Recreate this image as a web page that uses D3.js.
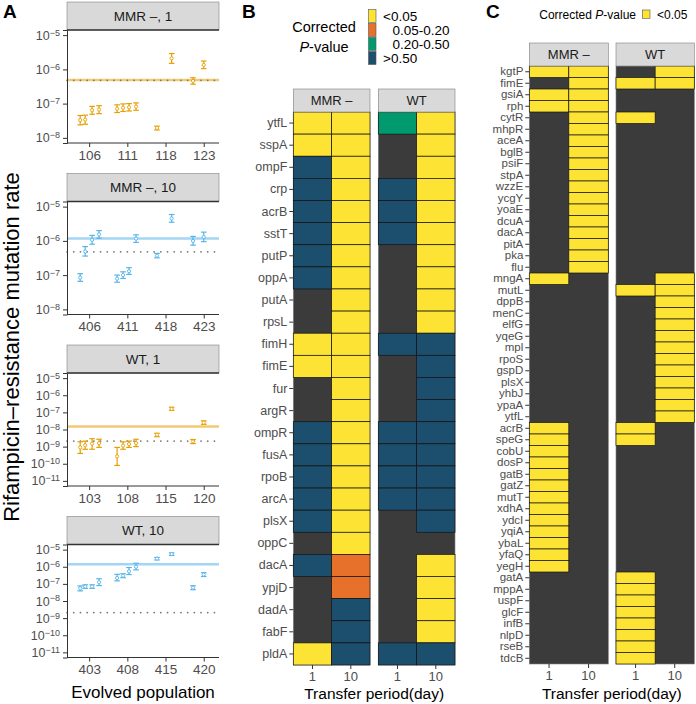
<!DOCTYPE html>
<html><head><meta charset="utf-8">
<script src="https://cdn.jsdelivr.net/npm/d3@7"></script>
<style>
body{margin:0;background:#fff}
svg{font-family:"Liberation Sans",Arial,Helvetica,sans-serif}
</style>
</head><body>
<svg id="c" width="696" height="704"></svg>
<script>
// ---------------- DATA ----------------
// Panel A
const facetLabelsA = ["MMR \u2013, 1","MMR \u2013, 10","WT, 1","WT, 10"];
const tickLabelsA = [["106","111","118","123"],["406","411","418","423"],["103","108","115","120"],["403","408","415","420"]];
const tickOrdA = [0,5,10,15];
const popOrdA = [-1.17,-0.52,0.39,1.3,3.66,4.44,5.22,6.14,8.88,10.8,13.6,15.0];

const rateMMR1 = [3.3e-8,3.4e-8,6.4e-8,6.7e-8,7.1e-8,7.6e-8,7.8e-8,8.2e-8,1.95e-8,2.1e-6,4.6e-7,1.35e-6];
const lowMMR1  = [2.4e-8,2.5e-8,4.9e-8,5.1e-8,5.5e-8,5.9e-8,6.1e-8,6.4e-8,1.7e-8,1.5e-6,3.7e-7,1.05e-6];
const highMMR1 = [4.5e-8,4.6e-8,8.3e-8,8.7e-8,9.2e-8,9.8e-8,1.0e-7,1.05e-7,2.2e-8,2.9e-6,5.7e-7,1.75e-6];

const rateMMR10 = [8.5e-8,4.9e-7,1.07e-6,1.55e-6,7.9e-8,1.0e-7,1.3e-7,1.17e-6,3.7e-7,4.5e-6,1.0e-6,1.3e-6];
const lowMMR10  = [6.6e-8,3.6e-7,8.0e-7,1.2e-6,6.2e-8,8.0e-8,1.05e-7,9.0e-7,3.2e-7,3.5e-6,7.5e-7,9.5e-7];
const highMMR10 = [1.1e-7,6.8e-7,1.45e-6,2.0e-6,1.0e-7,1.25e-7,1.65e-7,1.5e-6,4.3e-7,5.9e-6,1.35e-6,1.8e-6];

const rateWT1 = [9e-10,1.2e-9,1.5e-9,1.6e-9,2.7e-10,1.15e-9,1.4e-9,1.6e-9,5e-9,1.6e-7,2e-9,2.5e-8];
const lowWT1  = [4e-10,7e-10,7e-10,9e-10,8e-11,7e-10,9e-10,1e-9,3.8e-9,1.3e-7,1.5e-9,2e-8];
const highWT1 = [1.9e-9,2.1e-9,2.9e-9,2.7e-9,9e-10,1.9e-9,2.1e-9,2.7e-9,6e-9,2e-7,2.6e-9,3.2e-8];

const rateWT10 = [5.5e-8,7e-8,7e-8,1.25e-7,2.2e-7,3e-7,5.4e-7,1e-6,3e-6,5.5e-6,6e-8,3.5e-7];
const lowWT10  = [3.9e-8,5.5e-8,5.5e-8,8e-8,1.5e-7,2.3e-7,3.5e-7,6.6e-7,2.5e-6,4.6e-6,4.6e-8,2.7e-7];
const highWT10 = [7.6e-8,8.8e-8,8.8e-8,2e-7,3.6e-7,3.9e-7,9e-7,1.6e-6,3.5e-6,6.5e-6,7.8e-8,4.5e-7];

const medianA = [4.9e-7,1.17e-6,1.5e-8,1.4e-6];
const refA = [4.8e-7,4.8e-7,2.1e-9,2.1e-9];
const yExpA = [[-8.15,-4.85],[-8.15,-4.85],[-11.3,-4.7],[-11.3,-4.7]];
const yTicksA = [[-5,-6,-7,-8],[-5,-6,-7,-8],[-5,-6,-7,-8,-9,-10,-11],[-5,-6,-7,-8,-9,-10,-11]];

// Panel B
const periods = ["1","10"];
const genesB = ["ytfL","sspA","ompF","crp","acrB","sstT","putP","oppA","putA","rpsL","fimH","fimE","fur","argR","ompR","fusA","rpoB","arcA","plsX","oppC","dacA","ypjD","dadA","fabF","pldA"];
const pLevels = ["<0.05","0.05-0.20","0.20-0.50",">0.50"];
const pCode = {Y:"<0.05",O:"0.05-0.20",G:"0.20-0.50",B:">0.50"};
const bMMR1  = ["Y","Y","B","B","B","B","B","B","-","-","Y","Y","-","-","B","B","B","B","B","-","B","-","-","-","Y"];
const bMMR10 = ["Y","Y","Y","Y","Y","Y","Y","Y","Y","Y","Y","Y","Y","Y","Y","Y","Y","Y","Y","Y","O","O","B","B","B"];
const bWT1   = ["G","-","-","B","B","B","-","-","-","-","B","-","-","-","B","B","B","B","-","-","-","-","-","-","B"];
const bWT10  = ["Y","Y","Y","Y","Y","Y","Y","Y","Y","Y","B","B","B","B","B","B","B","B","B","-","Y","Y","Y","Y","B"];

// Panel C
const genesC = ["kgtP","fimE","gsiA","rph","cytR","mhpR","aceA","bglB","psiF","stpA","wzzE","ycgY","yoaE","dcuA","dacA","pitA","pka","flu","mngA","mutL","dppB","menC","elfG","yqeG","mpl","rpoS","gspD","plsX","yhbJ","ypaA","ytfL","acrB","speG","cobU","dosP","gatB","gatZ","mutT","xdhA","ydcI","yqiA","ybaL","yfaQ","yegH","gatA","mppA","uspF","glcF","infB","nlpD","rseB","tdcB"];
const cMMR1  = [1,0,1,1,0, 0,0,0,0,0,0,0,0,0,0,0,0,0, 1,0, 0,0,0,0,0,0,0,0,0,0,0, 1,1, 1,1,1,1,1,1,1,1,1,1,1, 0,0,0,0,0,0,0,0];
const cMMR10 = [1,1,1,1,1, 1,1,1,1,1,1,1,1,1,1,1,1,1, 0,0, 0,0,0,0,0,0,0,0,0,0,0, 0,0, 0,0,0,0,0,0,0,0,0,0,0, 0,0,0,0,0,0,0,0];
const cWT1   = [0,1,0,0,1, 0,0,0,0,0,0,0,0,0,0,0,0,0, 0,1, 0,0,0,0,0,0,0,0,0,0,0, 1,1, 0,0,0,0,0,0,0,0,0,0,0, 1,1,1,1,1,1,1,1];
const cWT10  = [1,1,0,0,0, 0,0,0,0,0,0,0,0,0,0,0,0,0, 1,1, 1,1,1,1,1,1,1,1,1,1,1, 0,0, 0,0,0,0,0,0,0,0,0,0,0, 0,0,0,0,0,0,0,0];

// ---------------- DRAW ----------------
const svg = d3.select("#c");
const ORANGE = "#E69F00", BLUE = "#56B4E9";
const pColor = d3.scaleOrdinal().domain(pLevels).range(["#FDE333","#E7702A","#009A6E","#1C4E6D"]);
const NA_FILL = "#3B3B3B", STRIP = "#D9D9D9", TXT = "#4D4D4D";

// panel letters
[["A",3],["B",242],["C",486]].forEach(([t,x]) =>
  svg.append("text").attr("x",x).attr("y",18).attr("font-size",19).attr("font-weight","bold").text(t));

// ----- Panel A -----
const seriesA = [
  [rateMMR1,lowMMR1,highMMR1],[rateMMR10,lowMMR10,highMMR10],
  [rateWT1,lowWT1,highWT1],[rateWT10,lowWT10,highWT10]];
const colA = [ORANGE,BLUE,ORANGE,BLUE];
const ax0 = 67, ax1 = 219;
facetLabelsA.forEach((lab,i) => {
  const top = 2 + i*171.5, pt = top + 28, pb = pt + 113;
  const g = svg.append("g");
  const x = d3.scaleLinear().domain([-2.9,17]).range([ax0,ax1]);
  const y = d3.scaleLog().domain([10**yExpA[i][0],10**yExpA[i][1]]).range([pb,pt]);
  // strip
  g.append("rect").attr("x",ax0).attr("y",top).attr("width",ax1-ax0).attr("height",28)
    .attr("fill",STRIP).attr("stroke","#808080").attr("stroke-width",0.6);
  g.append("text").attr("x",(ax0+ax1)/2).attr("y",top+18.5).attr("text-anchor","middle")
    .attr("font-size",13.5).attr("fill","#1a1a1a").text(lab);
  g.append("line").attr("x1",ax0).attr("x2",ax1).attr("y1",pt).attr("y2",pt).attr("stroke","#333").attr("stroke-width",1.3);
  // median & ref
  g.append("line").attr("x1",ax0).attr("x2",ax1).attr("y1",y(medianA[i])).attr("y2",y(medianA[i]))
    .attr("stroke",colA[i]).attr("stroke-opacity",0.55).attr("stroke-width",2.6);
  g.append("line").attr("x1",ax0).attr("x2",ax1).attr("y1",y(refA[i])).attr("y2",y(refA[i]))
    .attr("stroke","#777").attr("stroke-width",1.7).attr("stroke-linecap","round").attr("stroke-dasharray","0.1,6.6");
  // errorbars
  const [r,lo,hi] = seriesA[i];
  r.forEach((v,k) => {
    const xx = x(popOrdA[k]);
    const e = g.append("g").attr("stroke",colA[i]).attr("stroke-width",1.2);
    e.append("line").attr("x1",xx).attr("x2",xx).attr("y1",y(lo[k])).attr("y2",y(hi[k]));
    e.append("line").attr("x1",xx-2.8).attr("x2",xx+2.8).attr("y1",y(lo[k])).attr("y2",y(lo[k]));
    e.append("line").attr("x1",xx-2.8).attr("x2",xx+2.8).attr("y1",y(hi[k])).attr("y2",y(hi[k]));
    e.append("circle").attr("cx",xx).attr("cy",y(v)).attr("r",1.6).attr("fill","#fff").attr("stroke-width",0.9);
  });
  // axes
  const ya = g.append("g").attr("transform",`translate(${ax0},0)`)
    .call(d3.axisLeft(y).tickValues(yTicksA[i].map(e=>10**e)).tickSize(4).tickPadding(3).tickFormat(()=>""));
  ya.select(".domain").attr("stroke","#333");
  ya.selectAll(".tick line").attr("stroke","#333");
  ya.selectAll(".tick text").each(function(d){
    const t = d3.select(this).attr("font-size",12.5).attr("fill",TXT).attr("font-family",null);
    t.append("tspan").text("10");
    t.append("tspan").attr("dy","-0.45em").attr("font-size",9).text("\u2212"+Math.round(-Math.log10(d)));
  });
  const xa = g.append("g").attr("transform",`translate(0,${pb})`)
    .call(d3.axisBottom(x).tickValues(tickOrdA).tickSize(4).tickPadding(3).tickFormat((d,j)=>tickLabelsA[i][j]));
  xa.select(".domain").attr("stroke","#333").attr("d",`M${ax0},0H${ax1}`);
  xa.selectAll(".tick line").attr("stroke","#333");
  xa.selectAll(".tick text").attr("font-size",13.5).attr("fill",TXT).attr("font-family",null);
});
svg.append("text").attr("x",(ax0+ax1)/2).attr("y",698).attr("text-anchor","middle").attr("font-size",17).text("Evolved population");
svg.append("text").attr("transform","translate(19,347) rotate(-90)").attr("text-anchor","middle")
  .attr("font-size",22).text("Rifampicin\u2013resistance mutation rate");

// ----- Heatmap helper -----
function heatmap(opt){
  const g = svg.append("g");
  const y = d3.scaleBand().domain(opt.genes).range([opt.top,opt.bottom]);
  opt.facets.forEach((f,fi) => {
    const x = d3.scaleBand().domain(periods).range([f.x0,f.x1]);
    g.append("rect").attr("x",f.x0).attr("y",opt.top).attr("width",f.x1-f.x0).attr("height",opt.bottom-opt.top)
      .attr("fill",NA_FILL).attr("stroke","#7f7f7f").attr("stroke-width",0.6);
    periods.forEach((p,pi) => {
      opt.genes.forEach((gene,gi) => {
        const val = opt.value(f.vals[pi][gi]);
        if(!val) return;
        g.append("rect").attr("x",x(p)).attr("y",y(gene)).attr("width",x.bandwidth()).attr("height",y.bandwidth())
          .attr("fill",pColor(val)).attr("stroke","#141414").attr("stroke-width",0.7);
      });
    });
    g.append("rect").attr("x",f.x0).attr("y",opt.stripTop).attr("width",f.x1-f.x0).attr("height",opt.top-opt.stripTop)
      .attr("fill",STRIP).attr("stroke","#7f7f7f").attr("stroke-width",0.6);
    g.append("text").attr("x",(f.x0+f.x1)/2).attr("y",(opt.stripTop+opt.top)/2+4.6).attr("text-anchor","middle")
      .attr("font-size",13).attr("fill","#1a1a1a").text(f.name);
    const xa = g.append("g").attr("transform",`translate(0,${opt.bottom})`).call(d3.axisBottom(x).tickSize(4).tickPadding(3));
    xa.select(".domain").remove();
    xa.selectAll(".tick line").attr("stroke","#333");
    xa.selectAll(".tick text").attr("font-size",13).attr("fill",TXT).attr("font-family",null);
  });
  const ya = g.append("g").attr("transform",`translate(${opt.facets[0].x0},0)`).call(d3.axisLeft(y).tickSize(4).tickPadding(2));
  ya.select(".domain").remove();
  ya.selectAll(".tick line").attr("stroke","#333");
  ya.selectAll(".tick text").attr("font-size",opt.labelSize).attr("fill",TXT).attr("font-family",null);
  const xm = (opt.facets[0].x0 + opt.facets[opt.facets.length-1].x1)/2;
  svg.append("text").attr("x",xm).attr("y",699).attr("text-anchor","middle").attr("font-size",15.5).text("Transfer period(day)");
}

// ----- Panel B -----
heatmap({
  genes: genesB, top: 112, bottom: 665, stripTop: 89, labelSize: 12.5,
  value: c => pCode[c],
  facets: [
    {name:"MMR \u2013", x0:293.3, x1:370, vals:[bMMR1,bMMR10]},
    {name:"WT", x0:378.3, x1:455, vals:[bWT1,bWT10]}
  ]
});
// legend B
svg.append("text").attr("x",324).attr("y",32).attr("text-anchor","middle").attr("font-size",14.5).text("Corrected");
const pv = svg.append("text").attr("x",324).attr("y",52).attr("text-anchor","middle").attr("font-size",14.5);
pv.append("tspan").attr("font-style","italic").text("P");
pv.append("tspan").text("-value");
pLevels.forEach((lv,k) => {
  svg.append("rect").attr("x",368.5).attr("y",9.5+k*14).attr("width",7.5).attr("height",13)
    .attr("fill",pColor(lv)).attr("stroke","#555").attr("stroke-width",0.6);
  const indent = (lv[0]==="<"||lv[0]===">") ? 0 : 9.5;
  svg.append("text").attr("x",383+indent).attr("y",16+k*14+4.6).attr("font-size",13.5).text(lv);
});

// ----- Panel C -----
heatmap({
  genes: genesC, top: 66, bottom: 664, stripTop: 43, labelSize: 11.5,
  value: c => c ? "<0.05" : null,
  facets: [
    {name:"MMR \u2013", x0:529.3, x1:608.3, vals:[cMMR1,cMMR10]},
    {name:"WT", x0:616, x1:694.3, vals:[cWT1,cWT10]}
  ]
});
const lc = svg.append("text").attr("x",636).attr("y",18.5).attr("text-anchor","end").attr("font-size",12);
lc.append("tspan").text("Corrected ");
lc.append("tspan").attr("font-style","italic").text("P");
lc.append("tspan").text("-value");
svg.append("rect").attr("x",642.3).attr("y",10).attr("width",7.7).attr("height",8.3)
  .attr("fill",pColor("<0.05")).attr("stroke","#555").attr("stroke-width",0.6);
svg.append("text").attr("x",657).attr("y",18.5).attr("font-size",12).text("<0.05");
</script>
</body></html>
